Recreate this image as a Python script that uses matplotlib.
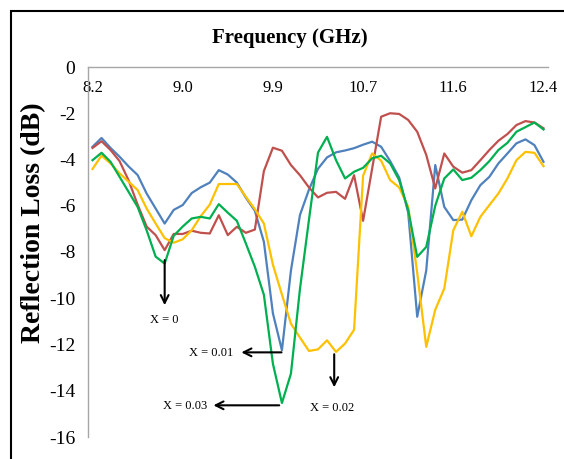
import numpy as np
import matplotlib
matplotlib.use('Agg')
import matplotlib.pyplot as plt
from matplotlib.patches import Rectangle

plt.rcParams['font.family'] = 'Liberation Serif'
plt.rcParams['axes.unicode_minus'] = False

# frequency points (51 samples, 8.2 - 12.4 GHz), labels every 10th point
freq = np.round(np.linspace(8.2, 12.4, 51), 3)
tick_labels = ['8.2', '9.0', '9.9', '10.7', '11.6', '12.4']

# reflection loss (dB)
blue = [-3.45, -3.07, -3.5, -3.88, -4.3, -4.67, -5.47, -6.12, -6.77, -6.18,
        -5.97, -5.45, -5.2, -5.0, -4.46, -4.65, -5.0, -5.65, -6.22, -7.56,
        -10.65, -12.25, -8.8, -6.4, -5.3, -4.4, -3.91, -3.69, -3.61, -3.51,
        -3.36, -3.23, -3.45, -4.07, -4.78, -6.3, -10.8, -8.8, -4.24, -6.05,
        -6.62, -6.6, -5.76, -5.11, -4.75, -4.17, -3.74, -3.3, -3.13, -3.38, -4.1]
red = [-3.5, -3.21, -3.59, -4.07, -4.9, -5.95, -6.9, -7.27, -7.92, -7.22,
       -7.22, -7.08, -7.17, -7.2, -6.41, -7.27, -6.91, -7.17, -7.03, -4.5,
       -3.49, -3.62, -4.24, -4.68, -5.21, -5.64, -5.44, -5.4, -5.7, -4.68,
       -6.65, -4.4, -2.15, -2.0, -2.03, -2.29, -2.8, -3.8, -5.25, -3.74,
       -4.31, -4.57, -4.46, -4.03, -3.59, -3.19, -2.9, -2.51, -2.34, -2.4, -2.65]
green = [-4.03, -3.71, -4.1, -4.75, -5.4, -6.05, -7.06, -8.2, -8.5, -7.3,
         -6.9, -6.55, -6.48, -6.55, -5.93, -6.3, -6.65, -7.63, -8.64, -9.85,
         -12.83, -14.53, -13.26, -9.6, -6.6, -3.7, -3.02, -4.03, -4.82, -4.53,
         -4.36, -3.95, -3.84, -4.17, -4.89, -6.19, -8.21, -7.78, -6.0, -4.82,
         -4.43, -4.89, -4.79, -4.46, -4.07, -3.59, -3.28, -2.8, -2.6, -2.4, -2.7]
yellow = [-4.41, -3.83, -4.17, -4.6, -4.96, -5.32, -6.12, -6.77, -7.4, -7.6,
          -7.45, -7.06, -6.45, -5.95, -5.06, -5.06, -5.06, -5.61, -6.15, -6.77,
          -8.55, -9.84, -11.1, -11.7, -12.28, -12.21, -11.82, -12.32, -11.96, -11.36,
          -4.7, -3.74, -4.05, -4.89, -5.21, -6.05, -8.9, -12.1, -10.5, -9.58,
          -7.06, -6.26, -7.32, -6.48, -5.97, -5.47, -4.82, -4.03, -3.67, -3.71, -4.29]

fig = plt.figure(figsize=(5.64, 4.59), dpi=100)
ax = fig.add_axes([88/564, 1 - 437/459, 460/564, 370/459])

ax.plot(freq, blue, color='#4F81BD', lw=1.6)
ax.plot(freq, red, color='#C0504D', lw=1.6)
ax.plot(freq, yellow, color='#FFC000', lw=1.6)
ax.plot(freq, green, color='#00B050', lw=1.6)

ax.set_xlim(freq[0] - 0.042, freq[-1] + 0.042)
ax.set_ylim(-16, 0)
ax.set_yticks(np.arange(-16, 1, 2))
ax.set_xticks(freq[::10])
ax.set_xticklabels(tick_labels)

# excel style: category axis sits at y = 0 (top)
ax.spines['bottom'].set_position(('data', 0))
for s in ['top', 'right']:
    ax.spines[s].set_visible(False)
for s in ['bottom', 'left']:
    ax.spines[s].set_color('#A6A6A6')
    ax.spines[s].set_linewidth(1.0)
ax.tick_params(axis='x', length=0, pad=9, labelsize=12)
ax.tick_params(axis='y', length=0, pad=9, labelsize=14)

ax.set_ylabel('Reflection Loss (dB)', fontsize=20, fontweight='bold')
ax.yaxis.set_label_coords(-0.09, 0.58)
fig.text(290/564, 1 - 38/459, 'Frequency (GHz)', fontsize=15, fontweight='bold',
         ha='center', va='center')

# arrows + labels
arr = dict(arrowstyle='->', lw=1.5, color='black', mutation_scale=14,
           shrinkA=0, shrinkB=0)
ax.annotate('', xy=(8.872, -10.3), xytext=(8.872, -8.35), arrowprops=arr)
ax.text(8.872, -10.95, 'X = 0', fontsize=9, ha='center', va='center')
ax.annotate('', xy=(9.586, -12.34), xytext=(9.96, -12.34), arrowprops=arr)
ax.text(9.309, -12.38, 'X = 0.01', fontsize=9, ha='center', va='center')
ax.annotate('', xy=(9.326, -14.63), xytext=(9.939, -14.63), arrowprops=arr)
ax.text(9.065, -14.68, 'X = 0.03', fontsize=9, ha='center', va='center')
ax.annotate('', xy=(10.451, -13.85), xytext=(10.451, -12.42), arrowprops=arr)
ax.text(10.435, -14.75, 'X = 0.02', fontsize=9, ha='center', va='center')

# outer chart border (runs off the right and bottom edges)
fig.add_artist(Rectangle((11/564, -0.05), 1.0, 1 - 11/459 + 0.05,
                         transform=fig.transFigure, fill=False,
                         edgecolor='black', lw=1.5))

fig.savefig('out.png', dpi=100)
